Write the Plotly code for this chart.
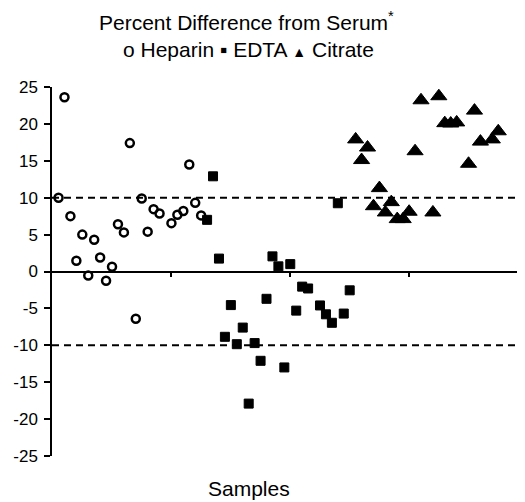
import plotly.graph_objects as go

# sample number / percent difference from serum
heparin_x = [1, 2, 3, 4, 5, 6, 7, 8, 9, 10, 11, 12, 13, 14, 15, 16, 17, 18,
             20, 21, 22, 23, 24, 25]
heparin_y = [10.0, 23.6, 7.5, 1.45, 5.0, -0.55, 4.3, 1.9, -1.25, 0.65, 6.4, 5.3,
             17.4, -6.4, 9.9, 5.4, 8.45, 7.85, 6.55, 7.7, 8.2, 14.5, 9.3, 7.6]

edta_x = [26, 27, 28, 29, 30, 31, 32, 33, 34, 35, 36, 37, 38, 39, 40, 41, 42,
          43, 45, 46, 47, 48, 49, 50]
edta_y = [7.0, 12.9, 1.75, -8.85, -4.55, -9.85, -7.6, -17.9, -9.7, -12.1, -3.7,
          2.05, 0.7, -13.0, 1.0, -5.3, -2.05, -2.3, -4.6, -5.8, -6.95, 9.25,
          -5.7, -2.55]

citrate_x = [51, 52, 53, 54, 55, 56, 57, 58, 59, 60, 61, 62, 64, 65, 66, 67,
             68, 70, 71, 72, 74, 75]
citrate_y = [17.9, 15.1, 16.8, 8.85, 11.3, 8.0, 9.4, 7.1, 7.1, 8.1, 16.3, 23.2,
             8.0, 23.75, 20.1, 20.05, 20.2, 14.6, 21.8, 17.6, 17.9, 19.0]

y_ticks = [25, 20, 15, 10, 5, 0, -5, -10, -15, -20, -25]
y_labels = [str(v) for v in y_ticks]
x_ticks = [20, 40, 60]
limits = [10, -10]

FONT = "Liberation Sans, Arial, sans-serif"

fig = go.Figure()
fig.add_trace(go.Scatter(
    x=heparin_x, y=heparin_y, mode="markers", name="Heparin", cliponaxis=False,
    marker=dict(symbol="circle-open", size=8, color="black",
                line=dict(width=2.5, color="black"))))
fig.add_trace(go.Scatter(
    x=edta_x, y=edta_y, mode="markers", name="EDTA", cliponaxis=False,
    marker=dict(symbol="square", size=9, color="black",
                line=dict(width=1, color="black"))))
fig.add_trace(go.Scatter(
    x=citrate_x, y=citrate_y, mode="markers", name="Citrate", cliponaxis=False,
    marker=dict(symbol="triangle-up", size=14, color="black",
                line=dict(width=1, color="black"))))

for v in limits:
    fig.add_shape(type="line", xref="paper", x0=0, x1=1, yref="y", y0=v, y1=v,
                  line=dict(color="black", width=2, dash="7px,5px"), layer="below")

fig.update_xaxes(range=[-0.1, 79.5], anchor="free", position=0.5, automargin=False,
                 showline=True, linecolor="black", linewidth=1.5,
                 ticks="outside", ticklen=5, tickwidth=1.5, tickcolor="black",
                 tickvals=x_ticks, showticklabels=False,
                 showgrid=False, zeroline=False)
fig.update_yaxes(range=[-25, 25], automargin=False,
                 showline=True, linecolor="black", linewidth=1.5,
                 ticks="outside", ticklen=6, tickwidth=1.5, tickcolor="black",
                 tickvals=y_ticks, ticktext=y_labels, ticklabelstandoff=3,
                 tickfont=dict(size=17, color="black", family=FONT),
                 showgrid=False, zeroline=False)

fig.add_annotation(text="Percent Difference from Serum<sup>*</sup>",
                   xref="paper", yref="paper", x=0.412, y=1.179, yanchor="middle",
                   showarrow=False, font=dict(size=21, color="black", family=FONT))
fig.add_annotation(text="o Heparin \u25aa EDTA <span style='font-size:14px'>\u25b2</span> Citrate",
                   xref="paper", yref="paper", x=0.416, y=1.101, yanchor="middle",
                   showarrow=False, font=dict(size=21, color="black", family=FONT))
fig.add_annotation(text="Samples", xref="paper", yref="paper", x=0.416, y=-0.089,
                   yanchor="middle",
                   showarrow=False, font=dict(size=21, color="black", family=FONT))

# the page body adds an 8px margin, so the figure is made 8px smaller on each side
fig.update_layout(
    width=517, height=494,
    margin=dict(l=44, r=0, t=79, b=46),
    paper_bgcolor="white", plot_bgcolor="white",
    showlegend=False,
)

fig.write_html("out.html")
